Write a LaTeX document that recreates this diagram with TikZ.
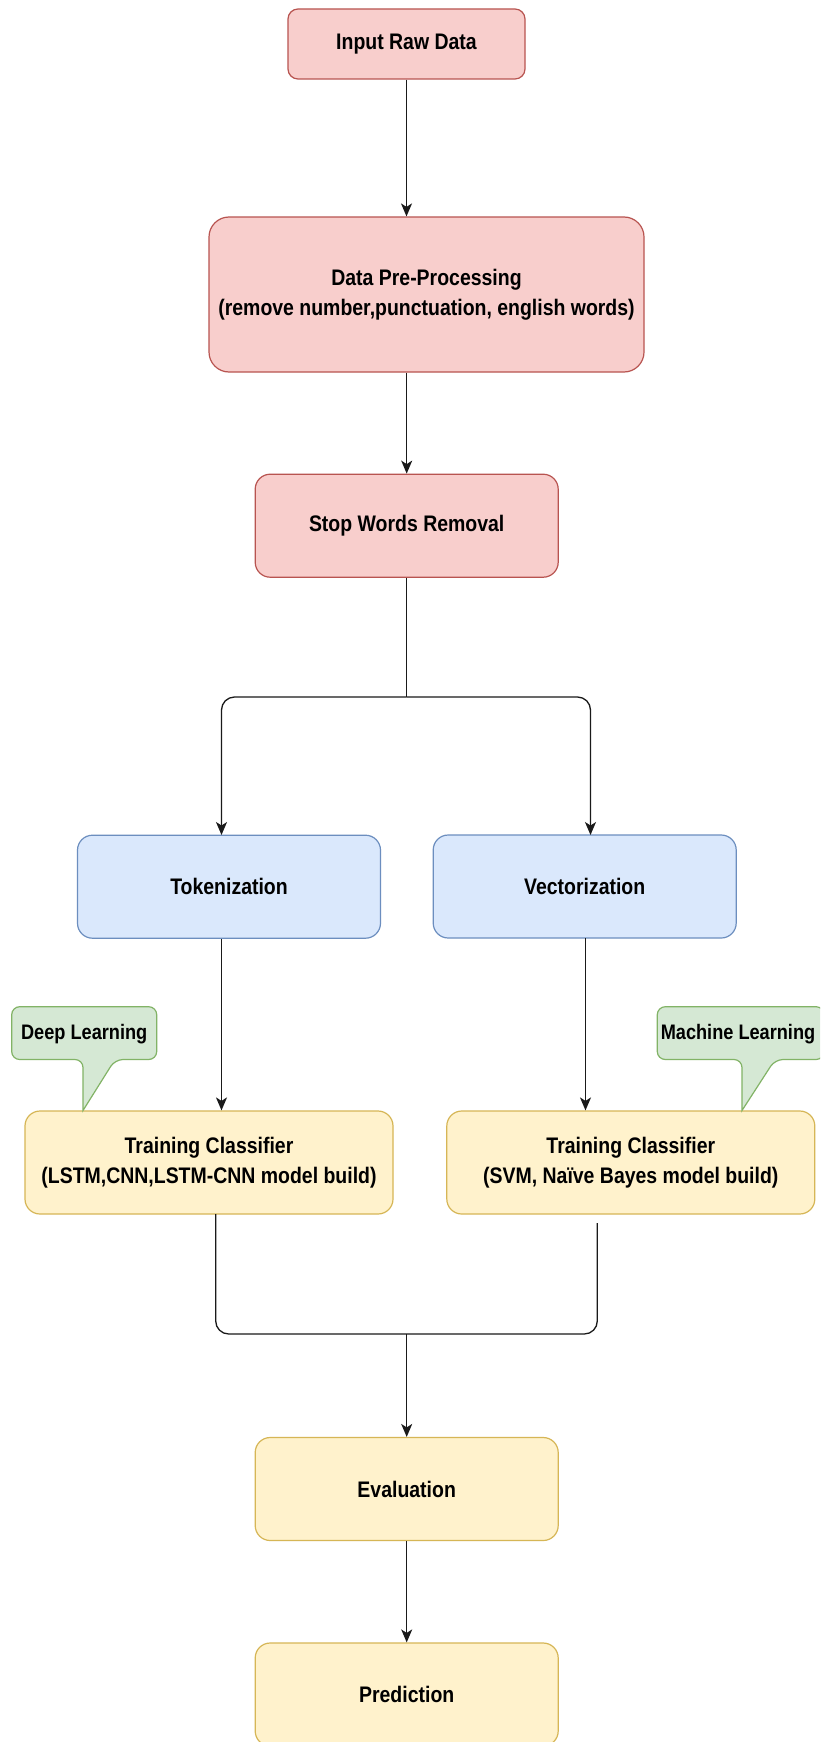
\documentclass[tikz,border=0pt]{standalone}
\usepackage{fontspec}
\setmainfont{Liberation Sans}[FakeStretch=0.865]
\usetikzlibrary{arrows.meta}

\definecolor{redfill}{HTML}{F8CECC}
\definecolor{redline}{HTML}{B85450}
\definecolor{bluefill}{HTML}{DAE8FC}
\definecolor{blueline}{HTML}{6C8EBF}
\definecolor{yelfill}{HTML}{FFF2CC}
\definecolor{yelline}{HTML}{D6B656}
\definecolor{grnfill}{HTML}{D5E8D4}
\definecolor{grnline}{HTML}{82B366}
\definecolor{wire}{HTML}{1A1A1A}

\begin{document}
\begin{tikzpicture}[
  x=1pt, y=-1pt,
  box/.style={line width=1.2pt, rounded corners=15pt, minimum width=303pt,
    minimum height=103pt, inner sep=0pt, align=center,
    font=\bfseries\fontsize{22.5}{30}\selectfont},
  redbox/.style={box, draw=redline, fill=redfill},
  bluebox/.style={box, draw=blueline, fill=bluefill},
  yelbox/.style={box, draw=yelline, fill=yelfill},
  callout/.style={draw=grnline, fill=grnfill, line width=1.2pt, rounded corners=8pt},
  cltext/.style={inner sep=0pt, font=\bfseries\fontsize{21}{26}\selectfont},
  line/.style={draw=wire, line width=1.3pt},
  arr/.style={line, -{Stealth[length=13pt, width=11pt, inset=3.5pt]}}
]
\fill[white] (0,0) rectangle (820,1742);
\clip (0,0) rectangle (820,1742);

% process boxes
\node[redbox, minimum width=237pt, minimum height=70pt, rounded corners=10pt] (input) at (406.5,44) {Input Raw Data};
\node[redbox, minimum width=435pt, minimum height=155pt, rounded corners=20pt] (pre) at (426.5,294.5) {Data Pre-Processing\\(remove number,punctuation, english words)};
\node[redbox] (stop) at (406.7,525.7) {Stop Words Removal};
\node[bluebox] (tok) at (229,886.7) {Tokenization};
\node[bluebox] (vec) at (584.7,886.5) {Vectorization};
\node[yelbox, minimum width=368pt] (trdl) at (209,1162.5) {Training Classifier\\(LSTM,CNN,LSTM-CNN model build)};
\node[yelbox, minimum width=368pt] (trml) at (630.8,1162.5) {Training Classifier\\(SVM, Naïve Bayes model build)};
\node[yelbox] (eval) at (406.7,1489) {Evaluation};
\node[yelbox] (pred) at (406.7,1694.5) {Prediction};

% callouts
\draw[callout] (84,1006.7) -- (156.7,1006.7) -- (156.7,1059.5) -- (115,1059.5)
  [sharp corners] -- (83,1110.5) [rounded corners=8pt] -- (83,1059.5) -- (11.7,1059.5) -- (11.7,1006.7) -- cycle;
\node[cltext] (dl) at (84.2,1034) {Deep Learning};
\draw[callout] (740,1006.7) -- (824,1006.7) -- (824,1059.5) -- (775,1059.5)
  [sharp corners] -- (742,1110.5) [rounded corners=8pt] -- (742,1059.5) -- (657.3,1059.5) -- (657.3,1006.7) -- cycle;
\node[cltext] (ml) at (738,1034) {Machine Learning};

% connectors
\coordinate (fork) at (406.7,697);
\coordinate (tokin) at (221.5,835);
\coordinate (vecin) at (590.5,835);
\coordinate (vecout) at (585.5,938);
\coordinate (dlout) at (215.7,1214);
\coordinate (mlout) at (597.3,1223);
\coordinate (join) at (406.7,1334);

\draw[arr] (input.south) -- (input.south |- pre.north);
\draw[arr] (stop.north |- pre.south) -- (stop.north);
\draw[line] (stop.south) -- (fork);
\draw[arr, rounded corners=13pt] (fork) -| (tokin);
\draw[arr, rounded corners=13pt] (fork) -| (vecin);
\draw[arr] (tokin |- tok.south) -- (tokin |- trdl.north);
\draw[arr] (vecout) -- (vecout |- trml.north);
\draw[line, rounded corners=13pt] (dlout) |- (join) -| (mlout);
\draw[arr] (join) -- (eval.north);
\draw[arr] (eval.south) -- (pred.north);
\end{tikzpicture}
\end{document}
